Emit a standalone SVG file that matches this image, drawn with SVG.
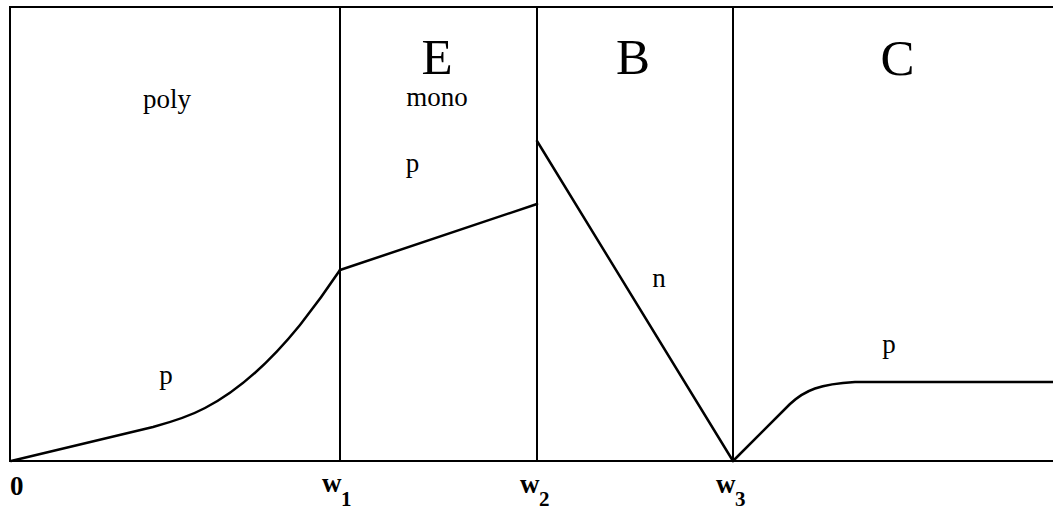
<svg xmlns="http://www.w3.org/2000/svg" width="1053" height="511" viewBox="0 0 1053 511">
<style>
.ln{stroke:#000;stroke-width:2;fill:none}
.cv{stroke:#000;stroke-width:2.5;fill:none;stroke-linejoin:round;stroke-linecap:round}
.t{font-family:"Liberation Serif","DejaVu Serif",serif;fill:#000}
.big{font-size:51px;text-anchor:middle}
.mid{font-size:27px;text-anchor:middle}
.ax{font-size:27px;font-weight:bold}
.sub{font-size:21px;font-weight:bold}
</style>
<rect width="1053" height="511" fill="#fff"/>
<g id="frame">
<line class="ln" x1="9" y1="7" x2="1053" y2="7"/>
<line class="ln" x1="10" y1="7" x2="10" y2="462"/>
<line class="ln" x1="9" y1="461" x2="1053" y2="461"/>
<line class="ln" x1="340" y1="7" x2="340" y2="461"/>
<line class="ln" x1="537" y1="7" x2="537" y2="461"/>
<line class="ln" x1="733" y1="7" x2="733" y2="461"/>
</g>
<g id="curves">
<path class="cv" d="M11,461 L153,427 C175,421 190,416 205,408 C240,390 270,362 300,325 C315,306 328,288 340,270"/>
<path class="cv" d="M340,270 L537,204"/>
<path class="cv" d="M537,141 L733,461"/>
<path class="cv" d="M733,461 L790,404 C805,390 820,384 855,382 L1053,382"/>
</g>
<g id="region-poly">
<text class="t mid" x="167" y="108">poly</text>
<text class="t mid" x="166" y="384">p</text>
</g>
<g id="region-E">
<text class="t big" x="437" y="74">E</text>
<text class="t mid" x="437" y="106">mono</text>
<text class="t mid" x="412.5" y="172">p</text>
</g>
<g id="region-B">
<text class="t big" x="633" y="74">B</text>
<text class="t mid" x="659" y="287">n</text>
</g>
<g id="region-C">
<text class="t big" x="897.5" y="75">C</text>
<text class="t mid" x="889" y="353">p</text>
</g>
<g id="axis-labels">
<text class="t ax" x="10" y="495">0</text>
<text class="t ax" x="322" y="492">w<tspan class="sub" x="341" y="506">1</tspan></text>
<text class="t ax" x="520" y="493">w<tspan class="sub" x="539" y="506">2</tspan></text>
<text class="t ax" x="716" y="493">w<tspan class="sub" x="735" y="506">3</tspan></text>
</g>
</svg>
